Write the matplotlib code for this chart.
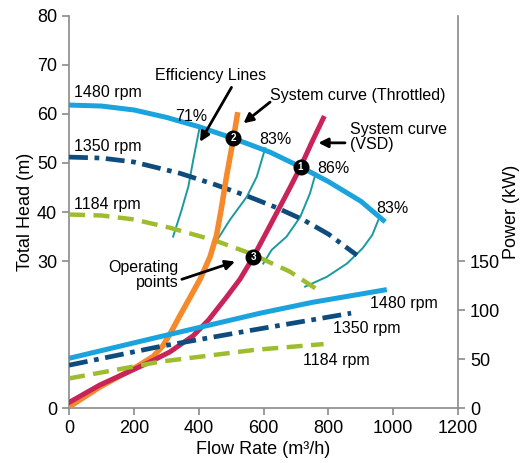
import matplotlib
matplotlib.use("Agg")
import matplotlib.pyplot as plt

plt.rcParams["font.family"] = ["Liberation Sans", "DejaVu Sans"]

# pump head curves (flow m3/h, head m)
q_1480 = [0, 100, 200, 300, 400, 507, 620, 714, 800, 900, 975]
h_1480 = [61.8, 61.6, 60.8, 59.3, 57.4, 55.0, 52.2, 49.2, 46.2, 42.2, 38.0]
q_1350 = [0, 100, 200, 342, 450, 548, 640, 723, 800, 888]
h_1350 = [51.2, 51.0, 50.2, 47.9, 45.6, 43.3, 40.9, 38.4, 35.5, 31.2]
q_1184 = [0, 100, 200, 311, 450, 558, 680, 768]
h_1184 = [39.5, 39.3, 38.5, 36.8, 34.2, 31.6, 27.9, 24.1]

# power curves (flow m3/h, kW)
pq_1480 = [0, 280, 590, 750, 980]
pw_1480 = [51, 73, 97, 108, 121]
pq_1350 = [0, 280, 570, 870]
pw_1350 = [44, 63, 80, 97]
pq_1184 = [0, 280, 570, 785]
pw_1184 = [30.5, 47.5, 59.5, 65.5]

# system curves
q_thr = [0, 96, 209, 260, 290, 315, 342, 368, 404, 435, 455, 470, 485, 507, 519]
h_thr = [0.3, 4.4, 8.5, 10.6, 12.8, 15.6, 18.9, 22.0, 26.3, 30.9, 35.3, 40.8, 47.0, 55.0, 59.8]
q_vsd = [0, 96, 209, 260, 311, 383, 430, 486, 527, 568, 605, 645, 680, 714, 750, 784]
h_vsd = [1.2, 4.8, 8.2, 9.8, 11.5, 14.8, 18.0, 22.7, 26.3, 30.8, 35.4, 40.4, 44.8, 49.2, 54.4, 59.1]

# efficiency lines
eff_lines = {
    "71": ([321, 347, 368, 383, 402], [35.0, 40.4, 45.2, 50.6, 57.0]),
    "83a": ([450, 496, 548, 579, 605], [33.6, 38.4, 43.1, 47.2, 53.0]),
    "86": ([599, 625, 671, 713, 743, 759], [29.5, 32.3, 35.0, 39.0, 43.8, 47.5]),
    "83b": ([728, 795, 857, 905, 935, 954], [24.8, 26.8, 29.5, 32.6, 35.3, 38.4]),
}
eff_labels = [("71%", 378, 59.4), ("83%", 635, 54.7), ("86%", 814, 48.9), ("83%", 996, 40.7)]

# operating points
op_q = [714, 507, 568]
op_h = [49.2, 55.0, 30.8]
op_n = ["1", "2", "3"]

BLUE = "#1ba3dd"
NAVY = "#0e4c7e"
GREEN = "#9ebd2e"
ORANGE = "#f58a2c"
CRIMSON = "#c8245a"
TEAL = "#1a9a9e"
GRAY = "#8a8a8a"

fig = plt.figure(figsize=(5.23, 4.63), dpi=100)
ax = fig.add_axes([0.132, 0.118, 0.744, 0.848])
ax2 = ax.twinx()

ax.set_xlim(0, 1200)
ax.set_ylim(0, 80)
ax2.set_ylim(0, 400)

dashdot = (0, (4, 1.4, 1, 1.4))
dashed = (0, (3.6, 1.9))

for xs, ys in eff_lines.values():
    ax.plot(xs, ys, color=TEAL, lw=1.4, zorder=2)

ax.plot(q_1480, h_1480, color=BLUE, lw=3.6, solid_capstyle="butt", zorder=3)
ax.plot(q_1350, h_1350, color=NAVY, lw=3.4, ls=dashdot, zorder=3)
ax.plot(q_1184, h_1184, color=GREEN, lw=3.2, ls=dashed, zorder=3)

ax2.plot(pq_1480, pw_1480, color=BLUE, lw=3.6, solid_capstyle="butt", zorder=3)
ax2.plot(pq_1350, pw_1350, color=NAVY, lw=3.4, ls=dashdot, zorder=3)
ax2.plot(pq_1184, pw_1184, color=GREEN, lw=3.2, ls=dashed, zorder=3)

ax.plot(q_thr, h_thr, color=ORANGE, lw=4, zorder=4)
ax.plot(q_vsd, h_vsd, color=CRIMSON, lw=3.6, zorder=4)

ax.plot(op_q, op_h, "o", color="black", ms=10.5, zorder=6)
for q, h, n in zip(op_q, op_h, op_n):
    ax.text(q, h, n, color="white", fontsize=7, fontweight="bold",
            ha="center", va="center", zorder=7)

fs = 11.5
for lab, x, y in eff_labels:
    ax.text(x, y, lab, fontsize=fs, ha="center", va="center")

ax.text(15, 64.4, "1480 rpm", fontsize=fs, va="center")
ax.text(15, 53.4, "1350 rpm", fontsize=fs, va="center")
ax.text(15, 41.5, "1184 rpm", fontsize=fs, va="center")
ax.text(928, 21.4, "1480 rpm", fontsize=fs, va="center")
ax.text(813, 16.3, "1350 rpm", fontsize=fs, va="center")
ax.text(720, 9.7, "1184 rpm", fontsize=fs, va="center")

ax.text(438, 67.9, "Efficiency Lines", fontsize=fs, ha="center", va="center")
ax.text(620, 63.8, "System curve (Throttled)", fontsize=fs, va="center")
ax.text(867, 55.2, "System curve\n(VSD)", fontsize=fs, va="center", linespacing=1.0)
ax.text(339, 27.2, "Operating\npoints", fontsize=fs, ha="right", va="center",
        multialignment="right", linespacing=1.0)

arrow = dict(arrowstyle="-|>", lw=2, color="black", mutation_scale=14, shrinkA=0, shrinkB=0)
ax.annotate("", xy=(404, 54.3), xytext=(501, 65.4), arrowprops=arrow, zorder=8)
ax.annotate("", xy=(538, 58.1), xytext=(620, 62.4), arrowprops=arrow, zorder=8)
ax.annotate("", xy=(769, 54.1), xytext=(851, 54.1), arrowprops=arrow, zorder=8)
ax.annotate("", xy=(512, 29.9), xytext=(348, 26.3), arrowprops=arrow, zorder=8)

ax.set_xticks(range(0, 1201, 200))
ax.set_yticks([0, 30, 40, 50, 60, 70, 80])
ax2.set_yticks([0, 50, 100, 150])

for a in (ax, ax2):
    a.spines["top"].set_visible(False)
    for s in ("left", "right", "bottom"):
        a.spines[s].set_color(GRAY)
        a.spines[s].set_linewidth(1.2)
    a.tick_params(colors=GRAY, labelcolor="black", labelsize=13, length=5, width=1.2)
ax.spines["right"].set_visible(False)
ax2.spines["left"].set_visible(False)
ax2.spines["bottom"].set_visible(False)

ax.set_xlabel("Flow Rate (m³/h)", fontsize=13, labelpad=3)
ax.set_ylabel("Total Head (m)", fontsize=13, labelpad=2)
ax2.set_ylabel("Power (kW)", fontsize=13)
ax2.yaxis.set_label_coords(1.115, 0.5)

fig.savefig("out.png", dpi=100)
